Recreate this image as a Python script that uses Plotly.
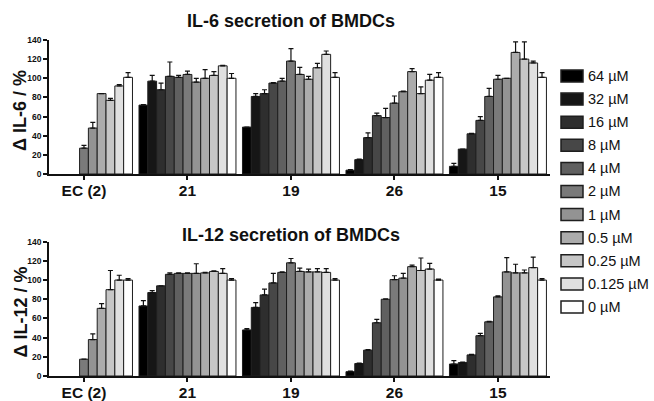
import plotly.graph_objects as go

W, H = 654, 401
FONT = "Liberation Sans, Arial, Helvetica, sans-serif"

groups = ["EC (2)", "21", "19", "26", "15"]
concs = ["64 µM", "32 µM", "16 µM", "8 µM", "4 µM", "2 µM", "1 µM",
         "0.5 µM", "0.25 µM", "0.125 µM", "0 µM"]
colors = ["#000000", "#161616", "#2e2e2e", "#474747", "#606060", "#7a7a7a",
          "#939393", "#acacac", "#c6c6c6", "#e0e0e0", "#ffffff"]

# IL-6 (per group, values for each concentration)
il6_ec = [None, None, None, None, None, 27, 48, 84, 77, 92, 101]
il6_21 = [72, 97, 88, 102, 101, 104, 96, 100, 103, 113, 100]
il6_19 = [49, 81, 84, 95, 97, 118, 104, 99, 111, 125, 101]
il6_26 = [4, 15, 38, 61, 59, 74, 86, 107, 84, 98, 101]
il6_15 = [8, 26, 42, 56, 81, 99, 100, 127, 120, 116, 101]
il6_err_ec = [None, None, None, None, None, 3, 6, 0, 2, 1.5, 5]
il6_err_21 = [0.5, 6, 7, 15, 2, 3.5, 4, 9, 4, 0.5, 5]
il6_err_19 = [0, 3, 4, 0.5, 3, 13, 7.5, 3, 4.5, 3.5, 5]
il6_err_26 = [0.5, 0.5, 5, 2.5, 9.5, 7.5, 0.5, 3, 7, 6, 5]
il6_err_15 = [3, 0, 0.5, 4, 8.5, 4, 0, 11, 18, 2, 5]

# IL-12
il12_ec = [None, None, None, None, None, 17.5, 38, 70.5, 90, 100, 100]
il12_21 = [73, 87, 94, 106, 107, 107, 107, 107.5, 109, 107, 100]
il12_19 = [48, 71.5, 84.5, 97, 108, 118, 109, 108.5, 108.5, 108, 100]
il12_26 = [4.5, 13, 27, 55.5, 80, 100.5, 102, 114, 110, 111.5, 100]
il12_15 = [12.5, 14, 22, 42, 56.5, 82.5, 108.5, 107.5, 107.5, 113, 100]
il12_err_ec = [None, None, None, None, None, 0, 6, 5, 20, 5, 1.5]
il12_err_21 = [5.5, 2, 0, 1.5, 0.5, 0.5, 10, 0.5, 0.5, 5, 1.5]
il12_err_19 = [1.5, 5, 6, 10, 0.5, 4.5, 3.5, 3, 3.5, 4, 1.5]
il12_err_26 = [0.5, 0.5, 0.5, 3.5, 0.5, 4, 5, 1.5, 13, 6, 1]
il12_err_15 = [3.5, 0.5, 0.5, 2.5, 0.5, 1, 15, 9, 3, 11, 1.5]

il6 = [il6_ec, il6_21, il6_19, il6_26, il6_15]
il6_err = [il6_err_ec, il6_err_21, il6_err_19, il6_err_26, il6_err_15]
il12 = [il12_ec, il12_21, il12_19, il12_26, il12_15]
il12_err = [il12_err_ec, il12_err_21, il12_err_19, il12_err_26, il12_err_15]

fig = go.Figure()

def add_panel(vals, errs, xa, ya):
    for i, c in enumerate(concs):
        y = [g[i] for g in vals]
        e = [g[i] for g in errs]
        fig.add_trace(go.Bar(
            x=groups, y=y, name=c, xaxis=xa, yaxis=ya, showlegend=False,
            marker=dict(color=colors[i], line=dict(color="#1e1e1e", width=1)),
            error_y=dict(type="data", array=e, arrayminus=[0] * len(e),
                         symmetric=False, color="#111111", thickness=1.2, width=2.5),
        ))

add_panel(il6, il6_err, "x", "y")
add_panel(il12, il12_err, "x2", "y2")

xdom = [49 / W, 550 / W]
top_dom = [1 - 174 / H, 1 - 40 / H]
bot_dom = [1 - 376 / H, 1 - 241.7 / H]

xcommon = dict(type="category", range=[-0.338, 4.503], domain=xdom,
               showline=True, linecolor="#111111", linewidth=1.5,
               ticks="outside", ticklen=4, tickwidth=1.5, tickcolor="#111111",
               showgrid=False, zeroline=False, automargin=False,
               ticklabelstandoff=-2,
               tickfont=dict(family=FONT, size=15.5, color="#111111", weight="bold"))
ycommon = dict(range=[0, 140], dtick=20, showline=True, linecolor="#111111",
               linewidth=1.5, ticks="outside", ticklen=4, tickwidth=1.5,
               tickcolor="#111111", showgrid=False, zeroline=False, automargin=False,
               tickfont=dict(family=FONT, size=8.5, color="#111111", weight="bold"))

fig.update_layout(
    width=W, height=H, margin=dict(l=0, r=0, t=0, b=0, pad=0, autoexpand=False),
    paper_bgcolor="white", plot_bgcolor="white", showlegend=False,
    barmode="group", bargap=0.063, bargroupgap=0,
    xaxis=dict(**xcommon, anchor="y"),
    yaxis=dict(**ycommon, domain=top_dom, anchor="x"),
    xaxis2=dict(**xcommon, anchor="y2"),
    yaxis2=dict(**ycommon, domain=bot_dom, anchor="x2"),
)

ann = []
tfont = dict(family=FONT, size=18, color="#111111", weight="bold")
ann.append(dict(text="IL-6 secretion of BMDCs", x=291 / W, y=1 - 21 / H,
                xanchor="center", yanchor="middle",
                xref="paper", yref="paper", showarrow=False, font=tfont))
ann.append(dict(text="IL-12 secretion of BMDCs", x=291 / W, y=1 - 234.5 / H,
                xanchor="center", yanchor="middle",
                xref="paper", yref="paper", showarrow=False, font=tfont))
yfont = dict(family=FONT, size=18, color="#111111", weight="bold")
ann.append(dict(text="Δ IL-6 / %", x=20 / W, y=1 - 111 / H, textangle=-90,
                xanchor="center", yanchor="middle",
                xref="paper", yref="paper", showarrow=False, font=yfont))
ann.append(dict(text="Δ IL-12 / %", x=20 / W, y=1 - 312.5 / H, textangle=-90,
                xanchor="center", yanchor="middle",
                xref="paper", yref="paper", showarrow=False, font=yfont))

shapes = []
lfont = dict(family=FONT, size=14.5, color="#111111")
for i, c in enumerate(concs):
    cy = 76 + 23.1 * i
    shapes.append(dict(type="rect", xref="paper", yref="paper",
                       x0=561 / W, x1=583 / W, y0=1 - (cy - 6) / H, y1=1 - (cy + 6) / H,
                       fillcolor=colors[i], line=dict(color="#1e1e1e", width=1.5)))
    ann.append(dict(text=c, x=586 / W, y=1 - cy / H, xanchor="left", yanchor="middle",
                    xref="paper", yref="paper", showarrow=False, font=lfont))

fig.update_layout(annotations=ann, shapes=shapes)
fig.write_html("out.html", config={"displayModeBar": False},
               post_script="document.body.style.margin='0px';document.body.style.padding='0px';")
